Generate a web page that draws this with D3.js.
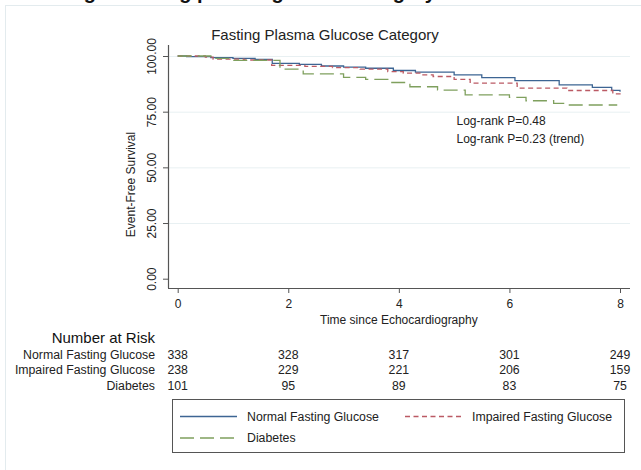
<!DOCTYPE html>
<html>
<head>
<meta charset="utf-8">
<script src="https://cdn.jsdelivr.net/npm/d3@7"></script>
<style>
  html, body { margin: 0; padding: 0; background: #ffffff; }
  svg { display: block; font-family: "Liberation Sans", Arial, Helvetica, sans-serif; }
</style>
</head>
<body>
<div id="chart"></div>
<script>
// Kaplan-Meier steps: [years, event-free survival %]
const normalFasting = [
  [0, 100], [0.16, 99.7], [0.6, 99.3], [1.0, 98.9], [1.4, 98.5], [1.71, 96.7],
  [2.2, 96.2], [2.6, 95.5], [3.0, 95.0], [3.4, 94.5], [3.9, 93.5], [4.3, 92.8],
  [5.0, 91.5], [5.5, 90.3], [6.1, 88.9], [6.9, 87.0], [7.5, 85.9], [7.85, 84.6], [8.0, 84.0]
];
const impairedFasting = [
  [0, 100], [0.5, 99.5], [0.64, 98.6], [1.2, 98.2], [1.7, 95.8], [2.3, 95.3],
  [2.8, 94.8], [3.3, 94.1], [3.8, 93.0], [4.08, 92.3], [4.4, 91.5], [4.62, 90.8],
  [5.0, 89.5], [5.29, 87.8], [6.14, 85.6], [7.04, 84.5], [7.87, 83.0], [8.0, 82.7]
];
const diabetes = [
  [0, 100], [0.6, 98.9], [1.0, 98.0], [1.85, 94.1], [2.27, 92.0], [3.0, 90.4],
  [3.4, 89.5], [3.8, 88.1], [4.2, 86.2], [4.7, 84.7], [5.2, 82.5], [6.0, 81.4],
  [6.3, 79.9], [6.8, 78.7], [7.0, 78.0], [7.95, 78.0]
];

const seriesNames = ["Normal Fasting Glucose", "Impaired Fasting Glucose", "Diabetes"];
const seriesColors = ["#3d6593", "#bb5a64", "#7fa05e"];
const seriesDash = [null, "5,3.5", "14,6"];

const xTicks = [0, 2, 4, 6, 8];
const yTicks = [0, 25, 50, 75, 100];

// number at risk at each x tick
const riskTimes = [0, 2, 4, 6, 8];
const riskNormal = [338, 328, 317, 301, 249];
const riskImpaired = [238, 229, 221, 206, 159];
const riskDiabetes = [101, 95, 89, 83, 75];

const titleText = "Fasting Plasma Glucose Category";
const headingText = "Event-free survival according to fasting plasma glucose category";
const statLines = ["Log-rank P=0.48", "Log-rank P=0.23 (trend)"];

const W = 641, H = 470;
const frame = { left: 168, right: 630, top: 45, bottom: 288 };

const svg = d3.select("#chart").append("svg")
  .attr("width", W).attr("height", H);

// outer graph region outline
svg.append("rect")
  .attr("x", 5.5).attr("y", 5.5).attr("width", W).attr("height", H)
  .attr("fill", "none").attr("stroke", "#e3ebee").attr("stroke-width", 1);

// heading (runs above the top edge of the page)
svg.append("text")
  .attr("x", 436).attr("y", -1)
  .attr("text-anchor", "end")
  .attr("font-weight", "bold").attr("font-size", 20)
  .attr("fill", "#111")
  .text(headingText);

const x = d3.scaleLinear().domain([0, 8]).range([177.7, 620]);
const y = d3.scaleLinear().domain([0, 100]).range([278.7, 56]);

// gridlines
svg.append("g").selectAll("line")
  .data(yTicks.filter(d => d > 0))
  .join("line")
  .attr("x1", frame.left).attr("x2", frame.right)
  .attr("y1", d => y(d) + 0.5).attr("y2", d => y(d) + 0.5)
  .attr("stroke", "#e8f0f2").attr("stroke-width", 1);

// y axis
const yAxis = svg.append("g")
  .attr("transform", `translate(${frame.left},0)`)
  .call(d3.axisLeft(y).tickValues(yTicks).tickSize(5).tickFormat(d3.format(".2f")));
yAxis.select(".domain").remove();
yAxis.selectAll(".tick line").attr("stroke", "#555");
yAxis.selectAll(".tick text")
  .attr("font-size", 12).attr("fill", "#222")
  .attr("x", null).attr("dy", null)
  .attr("text-anchor", "middle")
  .attr("transform", "translate(-12.5,0) rotate(-90)");
svg.append("line")
  .attr("x1", frame.left + 0.5).attr("x2", frame.left + 0.5)
  .attr("y1", frame.top).attr("y2", frame.bottom)
  .attr("stroke", "#555").attr("stroke-width", 1.2);

// x axis
const xAxis = svg.append("g")
  .attr("transform", `translate(0,${frame.bottom})`)
  .call(d3.axisBottom(x).tickValues(xTicks).tickSize(5).tickFormat(d3.format("d")));
xAxis.select(".domain").remove();
xAxis.selectAll(".tick line").attr("stroke", "#555");
xAxis.selectAll(".tick text")
  .attr("font-size", 12).attr("fill", "#222")
  .attr("y", 11).attr("dy", "0.71em");
svg.append("line")
  .attr("x1", frame.left).attr("x2", frame.right)
  .attr("y1", frame.bottom + 0.5).attr("y2", frame.bottom + 0.5)
  .attr("stroke", "#555").attr("stroke-width", 1.2);

// axis titles and chart title
svg.append("text")
  .attr("x", (x(0) + x(8)) / 2).attr("y", 323.5)
  .attr("text-anchor", "middle").attr("font-size", 12).attr("fill", "#222")
  .text("Time since Echocardiography");
svg.append("text")
  .attr("transform", `translate(135,${(frame.top + frame.bottom) / 2 + 18}) rotate(-90)`)
  .attr("text-anchor", "middle").attr("font-size", 12).attr("fill", "#222")
  .text("Event-Free Survival");
svg.append("text")
  .attr("x", 325).attr("y", 40)
  .attr("text-anchor", "middle").attr("font-size", 15).attr("fill", "#222")
  .text(titleText);

// survival curves
const line = d3.line()
  .x(d => x(d[0])).y(d => y(d[1]))
  .curve(d3.curveStepAfter);
[normalFasting, impairedFasting, diabetes].forEach((data, i) => {
  svg.append("path")
    .datum(data)
    .attr("d", line)
    .attr("fill", "none")
    .attr("stroke", seriesColors[i])
    .attr("stroke-width", 1.3)
    .attr("stroke-dasharray", seriesDash[i]);
});

// log-rank annotations
svg.append("g").selectAll("text")
  .data(statLines)
  .join("text")
  .attr("x", 456.5).attr("y", (d, i) => 125 + i * 18)
  .attr("font-size", 12).attr("fill", "#222")
  .text(d => d);

// number at risk table
svg.append("text")
  .attr("x", 155).attr("y", 342.5)
  .attr("text-anchor", "end").attr("font-size", 15).attr("fill", "#111")
  .text("Number at Risk");
const riskRows = [riskNormal, riskImpaired, riskDiabetes];
riskRows.forEach((row, i) => {
  const yy = 358.5 + i * 15.5;
  svg.append("text")
    .attr("x", 155).attr("y", yy)
    .attr("text-anchor", "end").attr("font-size", 12.3).attr("fill", "#222")
    .text(seriesNames[i]);
  svg.append("g").selectAll("text")
    .data(row)
    .join("text")
    .attr("x", (d, j) => x(riskTimes[j]))
    .attr("y", yy)
    .attr("text-anchor", "middle").attr("font-size", 12.3).attr("fill", "#222")
    .text(d => d);
});

// legend
const legend = svg.append("g");
legend.append("rect")
  .attr("x", 172.5).attr("y", 399.5).attr("width", 452).attr("height", 53)
  .attr("fill", "#fff").attr("stroke", "#555").attr("stroke-width", 1);
const legendPos = [[180, 416.5], [405, 416.5], [180, 438]];
legendPos.forEach((p, i) => {
  legend.append("line")
    .attr("x1", p[0]).attr("x2", p[0] + 57)
    .attr("y1", p[1]).attr("y2", p[1])
    .attr("stroke", seriesColors[i]).attr("stroke-width", 1.3)
    .attr("stroke-dasharray", seriesDash[i]);
  legend.append("text")
    .attr("x", p[0] + 67).attr("y", p[1] + 4.3)
    .attr("font-size", 12.3).attr("fill", "#222")
    .text(seriesNames[i]);
});
</script>
</body>
</html>
